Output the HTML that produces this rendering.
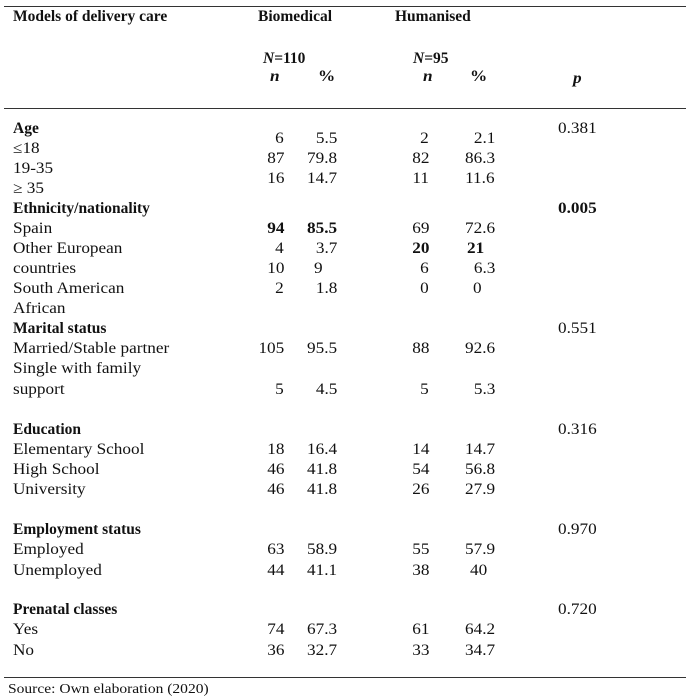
<!DOCTYPE html>
<html><head><meta charset="utf-8"><style>
html,body{margin:0;padding:0;background:#fff;}
body{width:698px;height:684px;position:relative;overflow:hidden;font-family:"Liberation Serif",serif;font-size:15.5px;color:#111;}
.t{position:absolute;line-height:18px;white-space:nowrap;transform:scaleX(1.11);transform-origin:left center;}
.r{text-align:right;transform-origin:right center;}
.b{font-weight:bold;}
.i{font-style:italic;}
.ns{transform:none;}
.hl{position:absolute;left:4px;width:682px;height:1px;background:#333;}
</style></head><body>
<div class="hl" style="top:6px"></div>
<div class="hl" style="top:108px"></div>
<div class="hl" style="top:677px"></div>

<div class="t b ns" style="left:13px;top:8px">Models of delivery care</div>
<div class="t b ns" style="left:258px;top:8px">Biomedical</div>
<div class="t b ns" style="left:395px;top:8px">Humanised</div>
<div class="t b ns" style="left:263px;top:50px"><i>N</i>=110</div>
<div class="t b ns" style="left:413px;top:50px"><i>N</i>=95</div>
<div class="t b i" style="left:270px;top:68px">n</div>
<div class="t b" style="left:318px;top:68px">%</div>
<div class="t b i" style="left:423px;top:68px">n</div>
<div class="t b" style="left:470px;top:68px">%</div>
<div class="t b i" style="left:573px;top:70px">p</div>

<div id="labels"></div>
<script>
var L=[["Age",129,1],["≤18",149],["19-35",169],["≥ 35",189],["Ethnicity/nationality",209,1],["Spain",229],["Other European",249],["countries",269],["South American",289],["African",309],["Marital status",329,1],["Married/Stable partner",349],["Single with family",369],["support",390],["Education",430,1],["Elementary School",450],["High School",470],["University",490],["Employment status",530,1],["Employed",550],["Unemployed",571],["Prenatal classes",610,1],["Yes",630],["No",651]];
var N=[[139,"6","5.5","2","2.1"],[159,"87","79.8","82","86.3"],[179,"16","14.7","11","11.6"],
[229,"<b>94</b>","<b>85.5</b>","69","72.6"],[249,"4","3.7","<b>20</b>","@467<b>21</b>"],[269,"10","@314 9","6","6.3"],[289,"2","1.8","0","@473 0"],
[349,"105","95.5","88","92.6"],[390,"5","4.5","5","5.3"],
[450,"18","16.4","14","14.7"],[470,"46","41.8","54","56.8"],[490,"46","41.8","26","27.9"],
[550,"63","58.9","55","57.9"],[571,"44","41.1","38","@470 40"],
[630,"74","67.3","61","64.2"],[651,"36","32.7","33","34.7"]];
var P=[[129,"0.381"],[209,"<b>0.005</b>"],[329,"0.551"],[430,"0.316"],[530,"0.970"],[610,"0.720"]];
var h="";
L.forEach(function(a){h+='<div class="t'+(a[2]?' b ns':'')+'" style="left:13px;top:'+(a[1]-9)+'px">'+a[0]+'</div>';});
var rights=[284,337,429,495];
N.forEach(function(a){for(var k=0;k<4;k++){var s=a[k+1];var top=a[0]-9;
 if(s.charAt(0)=="@"){var m=s.match(/^@(\d+)\s?(.*)$/);h+='<div class="t" style="left:'+m[1]+'px;top:'+top+'px">'+m[2]+'</div>';}
 else h+='<div class="t r" style="right:'+(698-rights[k])+'px;top:'+top+'px">'+s+'</div>';}});
P.forEach(function(a){h+='<div class="t" style="left:558px;top:'+(a[0]-9)+'px">'+a[1]+'</div>';});
document.getElementById("labels").innerHTML=h;
</script>
<div class="t" style="left:8px;top:681px;font-size:14px">Source: Own elaboration (2020)</div>
</body></html>
